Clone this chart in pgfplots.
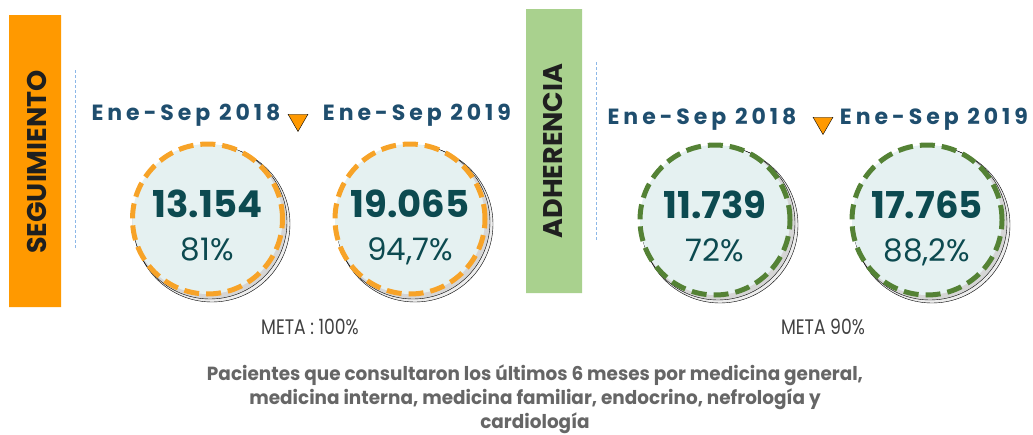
\documentclass[border=0pt]{standalone}
\usepackage{pgfplots}
\pgfplotsset{compat=1.18}
\usepackage{fontspec}
\setmainfont{Poppins}
\newfontfamily\spaced[LetterSpace=18]{Poppins}
\newfontfamily\narrow[FakeStretch=0.82]{Poppins}
\newfontfamily\semi[FakeStretch=0.97]{Poppins}
\definecolor{segorange}{HTML}{FF9900}
\definecolor{ringorange}{HTML}{F7A328}
\definecolor{adhgreen}{HTML}{A9D18E}
\definecolor{ringgreen}{HTML}{548235}
\definecolor{circfill}{HTML}{E5F1F1}
\definecolor{headblue}{HTML}{1F4E6E}
\definecolor{numteal}{HTML}{0C4A50}
\definecolor{dashblue}{HTML}{8DB8E8}
\definecolor{metagray}{HTML}{404040}
\definecolor{bottomgray}{HTML}{666666}
\begin{document}
\begin{tikzpicture}
\begin{axis}[
  scale only axis, width=1033pt, height=434pt,
  xmin=0, xmax=1033, ymin=0, ymax=434, y dir=reverse,
  hide axis, clip=false,
]
% side boxes
\addplot[draw=none, fill=segorange] coordinates {(9,15) (61,15) (61,307) (9,307) (9,15)};
\addplot[draw=none, fill=adhgreen] coordinates {(526,9) (582,9) (582,293) (526,293) (526,9)};
\node[rotate=90, font=\fontsize{27}{27}\selectfont\bfseries, text=black!88] at (axis cs:37,162) {SEGUIMIENTO};
\node[rotate=90, font=\fontsize{27}{27}\selectfont\bfseries, text=black!88] at (axis cs:553,151) {ADHERENCIA};
% dashed separators
\addplot[color=dashblue, line width=1pt, dash pattern=on 3pt off 2pt] coordinates {(75,70) (75,248)};
\addplot[color=dashblue, line width=1pt, dash pattern=on 3pt off 2pt] coordinates {(596,62) (596,240)};
% period headers
\addplot[draw=none, mark=none, nodes near coords, point meta=explicit symbolic,
  every node near coord/.style={anchor=base, text=headblue, font=\fontsize{22}{22}\spaced\bfseries}]
  coordinates {(186,120) [Ene-Sep 2018] (417,120) [Ene-Sep 2019] (702,124) [Ene-Sep 2018] (934,124) [Ene-Sep 2019]};
% triangles
\addplot[only marks, mark=triangle*, mark size=11.5pt, mark options={rotate=180, fill=segorange, draw=none}]
  coordinates {(298,120) (823,123)};
% shadows
\addplot[only marks, mark=*, mark size=78pt, mark options={draw=none, fill=black, fill opacity=0.07}]
  coordinates {(212,224) (415,224) (720,225) (932,225)};
\addplot[only marks, mark=*, mark size=77pt, mark options={draw=none, fill=black, fill opacity=0.10}]
  coordinates {(210,222) (413,222) (718,223) (930,223)};
% circles
\addplot[only marks, mark=*, mark size=75pt, mark options={fill=circfill, draw=ringorange, line width=5pt, dash pattern=on 15pt off 7pt}]
  coordinates {(207.5,219) (410,219)};
\addplot[only marks, mark=*, mark size=75pt, mark options={fill=circfill, draw=ringgreen, line width=5pt, dash pattern=on 15pt off 7pt}]
  coordinates {(715,220) (927,220)};
% values
\addplot[draw=none, mark=none, nodes near coords, point meta=explicit symbolic,
  every node near coord/.style={anchor=base, text=numteal, font=\fontsize{37}{37}\selectfont\bfseries}]
  coordinates {(207.5,217) [13.154] (410,217) [19.065] (715,218) [11.739] (927,218) [17.765]};
\addplot[draw=none, mark=none, nodes near coords, point meta=explicit symbolic,
  every node near coord/.style={anchor=base, text=numteal, font=\fontsize{31}{31}\selectfont}]
  coordinates {(207.5,260) [81\%] (410,260) [94,7\%] (715,261) [72\%] (927,261) [88,2\%]};
% meta labels
\node[anchor=base, text=metagray, font=\fontsize{21}{21}\narrow] at (axis cs:310,334) {META : 100\%};
\node[anchor=base, text=metagray, font=\fontsize{21}{21}\narrow] at (axis cs:823,334) {META 90\%};
% bottom note
\node[anchor=base, text=bottomgray, font=\fontsize{19}{19}\semi\bfseries] at (axis cs:535,380) {Pacientes que consultaron los últimos 6 meses por medicina general,};
\node[anchor=base, text=bottomgray, font=\fontsize{19}{19}\semi\bfseries] at (axis cs:535,404) {medicina interna, medicina familiar, endocrino, nefrología y};
\node[anchor=base, text=bottomgray, font=\fontsize{19}{19}\semi\bfseries] at (axis cs:535,428) {cardiología};
\end{axis}
\pgfresetboundingbox
\path (current axis.south west) rectangle (current axis.north east);
\end{tikzpicture}
\end{document}
